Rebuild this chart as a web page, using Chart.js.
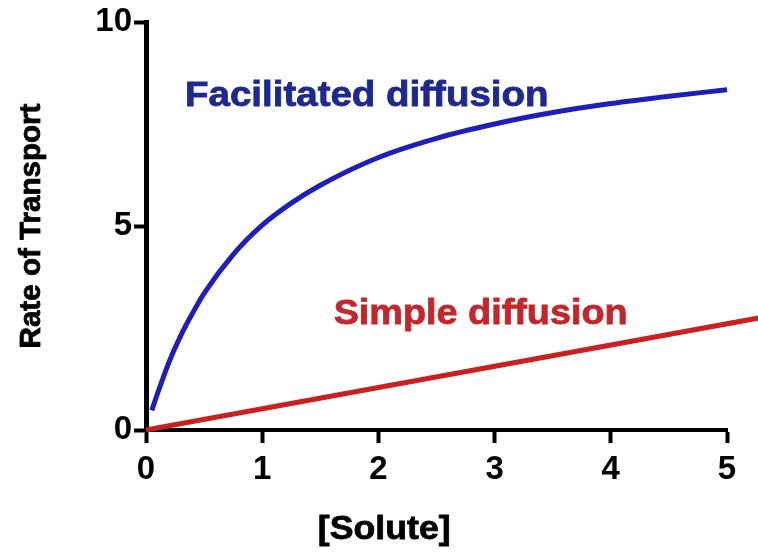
<!DOCTYPE html>
<html>
<head>
<meta charset="utf-8">
<script src="https://cdn.jsdelivr.net/npm/chart.js@4"></script>
<style>
  html, body { margin: 0; padding: 0; background: #ffffff; }
  #wrap { width: 758px; height: 553px; }
</style>
</head>
<body>
<div id="wrap"><canvas id="c" width="758" height="553"></canvas></div>
<script>
// ---- data ----
const facilitatedX = [0.05, 0.1, 0.2, 0.3, 0.4, 0.5, 0.75, 1.0, 1.25, 1.5, 2.0, 2.5, 3.0, 3.5, 4.0, 4.5, 5.0];
const facilitatedY = [0.48, 0.9, 1.68, 2.32, 2.86, 3.35, 4.3, 5.02, 5.56, 6.0, 6.68, 7.15, 7.5, 7.78, 8.0, 8.18, 8.34];
const simpleX = [0, 5.3];
const simpleY = [0, 2.76];
const xTicks = [0, 1, 2, 3, 4, 5];
const yTicks = [0, 5, 10];
const seriesNames = ['Facilitated diffusion', 'Simple diffusion'];
const xTitle = '[Solute]';
const yTitle = 'Rate of Transport';

// ---- styling / placement ----
const BLUE_LINE = '#1e1ebc';
const BLUE_TEXT = '#1d2890';
const RED_LINE = '#cc1f1f';
const RED_TEXT = '#c4262b';
const FONT = '"Liberation Sans", Arial, Helvetica, sans-serif';
const labelPlace = {
  facilitated: { x: 1.9, y: 8.17 },
  simple: { x: 2.88, y: 2.84 }
};

const toPts = (xs, ys) => xs.map((v, i) => ({ x: v, y: ys[i] }));

function wideText(ctx, text, cx, cy, sx, color) {
  ctx.save();
  ctx.translate(cx, cy);
  ctx.scale(sx, 1);
  ctx.fillStyle = color;
  ctx.strokeStyle = color;
  ctx.lineWidth = 0.8;
  ctx.fillText(text, 0, 0);
  ctx.strokeText(text, 0, 0);
  ctx.restore();
}

const textPlugin = {
  id: 'texts',
  afterDraw(chart) {
    const { ctx, chartArea } = chart;
    const xs = chart.scales.x, ys = chart.scales.y;
    ctx.save();
    ctx.textAlign = 'center';
    ctx.textBaseline = 'middle';
    // series labels
    ctx.font = 'bold 35px ' + FONT;
    wideText(ctx, seriesNames[0], xs.getPixelForValue(labelPlace.facilitated.x), ys.getPixelForValue(labelPlace.facilitated.y), 1.1, BLUE_TEXT);
    wideText(ctx, seriesNames[1], xs.getPixelForValue(labelPlace.simple.x), ys.getPixelForValue(labelPlace.simple.y), 1.08, RED_TEXT);
    // axis titles
    ctx.font = 'bold 34px ' + FONT;
    wideText(ctx, xTitle, xs.getPixelForValue(2.05), chartArea.bottom + 100, 1.05, '#000');
    ctx.translate(32, ys.getPixelForValue(5));
    ctx.rotate(-Math.PI / 2);
    ctx.font = 'bold 29px ' + FONT;
    wideText(ctx, yTitle, 0, 0, 1.02, '#000');
    ctx.restore();
  }
};

new Chart(document.getElementById('c'), {
  type: 'line',
  data: {
    datasets: [
      {
        label: seriesNames[1],
        data: toPts(simpleX, simpleY),
        borderColor: RED_LINE,
        borderWidth: 5,
        pointRadius: 0,
        clip: false,
        fill: false
      },
      {
        label: seriesNames[0],
        data: toPts(facilitatedX, facilitatedY),
        borderColor: BLUE_LINE,
        borderWidth: 5,
        pointRadius: 0,
        cubicInterpolationMode: 'monotone',
        fill: false,
        clip: false
      }
    ]
  },
  options: {
    responsive: false,
    animation: false,
    devicePixelRatio: 1,
    layout: { padding: { top: 22, right: 31, left: 0, bottom: 0 } },
    plugins: { legend: { display: false }, tooltip: { enabled: false }, title: { display: false } },
    scales: {
      x: {
        type: 'linear',
        min: 0, max: 5,
        afterBuildTicks(s) { s.ticks = xTicks.map(v => ({ value: v })); },
        afterFit(s) { s.height = 123; },
        ticks: { color: '#000', font: { family: FONT, size: 33, weight: 'bold' }, padding: 7, maxRotation: 0 },
        grid: { drawOnChartArea: false, drawTicks: true, tickLength: 13, tickWidth: 4, tickColor: '#000' },
        border: { display: true, color: '#000', width: 4 }
      },
      y: {
        type: 'linear',
        min: 0, max: 10,
        afterBuildTicks(s) { s.ticks = yTicks.map(v => ({ value: v })); },
        afterFit(s) { s.width = 146; },
        ticks: { color: '#000', font: { family: FONT, size: 33, weight: 'bold' }, padding: 2 },
        grid: { drawOnChartArea: false, drawTicks: true, tickLength: 12, tickWidth: 4, tickColor: '#000' },
        border: { display: true, color: '#000', width: 5 }
      }
    }
  },
  plugins: [textPlugin]
});
</script>
</body>
</html>
